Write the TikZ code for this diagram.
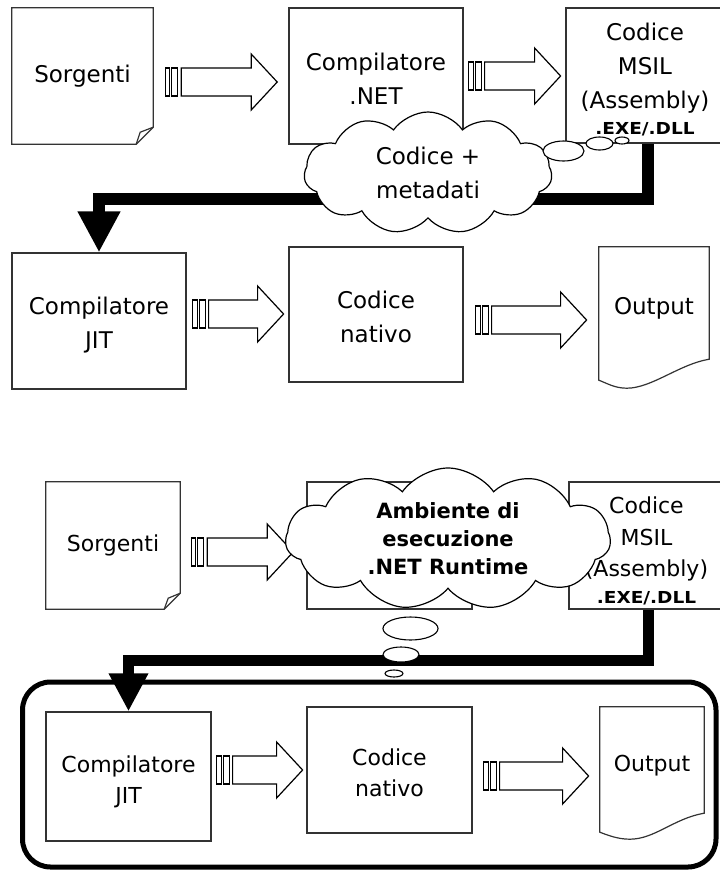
\documentclass[tikz,border=0pt]{standalone}
\usepackage{fontspec}
\setmainfont{DejaVu Sans}
\usetikzlibrary{shapes.symbols,shapes.geometric,arrows.meta}

\newcommand{\dllfont}{\fontsize{16.5}{18}\selectfont\bfseries}
\newcommand{\lift}[1]{\rule{0pt}{#1}}

\tikzset{
  pics/fat arrow/.style={code={
    \draw[arrow line] (0,-14) rectangle (4.5,14);
    \draw[arrow line] (6.5,-14) rectangle (12.5,14);
    \draw[arrow line] (16,-14) -- (#1-26,-14) -- (#1-26,-28) -- (#1,0)
      -- (#1-26,28) -- (#1-26,14) -- (16,14) -- cycle;
  }}
}

\begin{document}
\begin{tikzpicture}[x=1pt,y=-1pt,
    arrow line/.style={line width=1.2pt,fill=white},
    box node/.style={rectangle,draw=black!80,line width=1.2pt,fill=white,align=center,inner sep=0pt},
    page node/.style={rectangle,align=center,inner sep=0pt},
    page line/.style={draw=black!80,line width=1.2pt},
    cloud node/.style={cloud,draw,line width=1.2pt,fill=white,cloud puffs=11,cloud puff arc=110,
      cloud ignores aspect,align=center},
    bubble node/.style={ellipse,draw,line width=1.1pt,fill=white,inner sep=0pt},
    big link/.style={line width=12pt,-{Triangle[length=41pt,width=40pt]}},
    small link/.style={line width=11pt,-{Triangle[length=38pt,width=37pt]}},
    run frame/.style={line width=5pt,rounded corners=28pt},
    text a/.style={font=\fontsize{23}{34}\selectfont},
    text b/.style={font=\fontsize{22}{31.5}\selectfont}]

    \useasboundingbox (0,0) rectangle (720,871);

    % compilazione
    \node[page node,text a,minimum width=141pt,minimum height=136pt] (src1) at (82.5,76) {Sorgenti};
    \draw[page line] (src1.north west) -- (src1.north east) -- ([yshift=17pt]src1.south east)
      -- ([xshift=-17pt]src1.south east) -- (src1.south west) -- cycle;
    \draw[page line] ([yshift=17pt]src1.south east) -- ([xshift=-13pt,yshift=12pt]src1.south east)
      -- ([xshift=-17pt]src1.south east);
    \node[box node,text a,minimum width=174pt,minimum height=136pt] (net1) at (376,76) {\lift{23pt}Compilatore\\.NET};
    \node[box node,text a,minimum width=158pt,minimum height=135pt] (msil1) at (645,75.5)
      {\lift{25pt}Codice\\MSIL\\(Assembly)\\[-8pt]{\dllfont\scalebox{1.12}[1]{.EXE/.DLL}}};

    \node[box node,text a,minimum width=174pt,minimum height=136pt] (jit1) at (99,321) {\lift{25pt}Compilatore\\JIT};
    \node[box node,text a,minimum width=174pt,minimum height=135pt] (nat1) at (376,314.5) {\lift{23pt}Codice\\nativo};
    \node[page node,text a,minimum width=110pt,minimum height=112pt] (out1) at (654,303) {\lift{27pt}Output};
    \draw[page line] (out1.south west) -- (out1.north west) -- (out1.north east) -- (out1.south east)
      .. controls +(-30,5) and +(25,0) .. ([xshift=28pt,yshift=-29pt]out1.south west)
      .. controls +(-12,0) and +(8,3) .. ([yshift=-21pt]out1.south west) -- cycle;

    \pic at ([xshift=12pt,yshift=-6pt]src1.east) {fat arrow=112};
    \pic at ([xshift=5pt]net1.east) {fat arrow=92};
    \pic at ([xshift=6pt,yshift=7pt]jit1.east) {fat arrow=91};
    \pic at ([xshift=12pt,yshift=-5.5pt]nat1.east) {fat arrow=111};

    \draw[big link] ([xshift=3pt]msil1.south) -- ++(0,55) -| (jit1.north);

    \node[cloud node,text a,inner xsep=-8pt,inner ysep=-22pt,minimum width=248pt,minimum height=122pt] (cl1)
      at (428,173) {Codice +\\metadati};
    \node[bubble node,minimum width=41pt,minimum height=20pt] (b11) at (563.5,151) {};
    \node[bubble node,minimum width=27pt,minimum height=13pt] (b12) at (599.5,143.5) {};
    \node[bubble node,minimum width=14pt,minimum height=7pt] (b13) at (622,140.5) {};

    % esecuzione
    \node[page node,text b,minimum width=134pt,minimum height=127pt] (src2) at (113,545.5) {Sorgenti};
    \draw[page line] (src2.north west) -- (src2.north east) -- ([yshift=16pt]src2.south east)
      -- ([xshift=-16pt]src2.south east) -- (src2.south west) -- cycle;
    \draw[page line] ([yshift=16pt]src2.south east) -- ([xshift=-12pt,yshift=11pt]src2.south east)
      -- ([xshift=-16pt]src2.south east);
    \node[box node,minimum width=165pt,minimum height=127pt] (net2) at (389.5,545.5) {};
    \node[box node,text b,minimum width=155pt,minimum height=127pt] (msil2) at (646.5,545.5)
      {\lift{28pt}Codice\\MSIL\\(Assembly)\\[-5pt]{\dllfont\scalebox{1.12}[1]{.EXE/.DLL}}};
    \pic at ([xshift=11pt,yshift=-6.5pt]src2.east) {fat arrow=102};

    \node[cloud node,font=\fontsize{21}{28}\selectfont\bfseries,inner xsep=-10pt,inner ysep=-40pt,
      minimum width=325pt,minimum height=142pt] (cl2)
      at (448,539) {Ambiente di\\esecuzione\\.NET Runtime};

    \draw[run frame] (22.5,682) rectangle (716,867);
    \node[box node,text b,minimum width=165pt,minimum height=129pt] (jit2) at (128.5,776.5) {\lift{27pt}Compilatore\\JIT};
    \node[box node,text b,minimum width=165pt,minimum height=126pt] (nat2) at (389.5,770) {\lift{22pt}Codice\\nativo};
    \node[page node,text b,minimum width=104pt,minimum height=106pt] (out2) at (652,760) {\lift{28pt}Output};
    \draw[page line] (out2.south west) -- (out2.north west) -- (out2.north east) -- (out2.south east)
      .. controls +(-30,5) and +(25,0) .. ([xshift=30pt,yshift=-26pt]out2.south west)
      .. controls +(-12,0) and +(8,3) .. ([yshift=-19pt]out2.south west) -- cycle;
    \pic at ([xshift=5pt,yshift=6.5pt]jit2.east) {fat arrow=86};
    \pic at ([xshift=11pt,yshift=-6pt]nat2.east) {fat arrow=105};

    \draw[small link] ([xshift=2pt]msil2.south) -- ++(0,51) -| (jit2.north);

    \node[bubble node,minimum width=55pt,minimum height=23pt] (b21) at (410.5,628.5) {};
    \node[bubble node,minimum width=36pt,minimum height=15pt] (b22) at (401,654.5) {};
    \node[bubble node,minimum width=18pt,minimum height=7pt] (b23) at (394,673.5) {};
\end{tikzpicture}
\end{document}
